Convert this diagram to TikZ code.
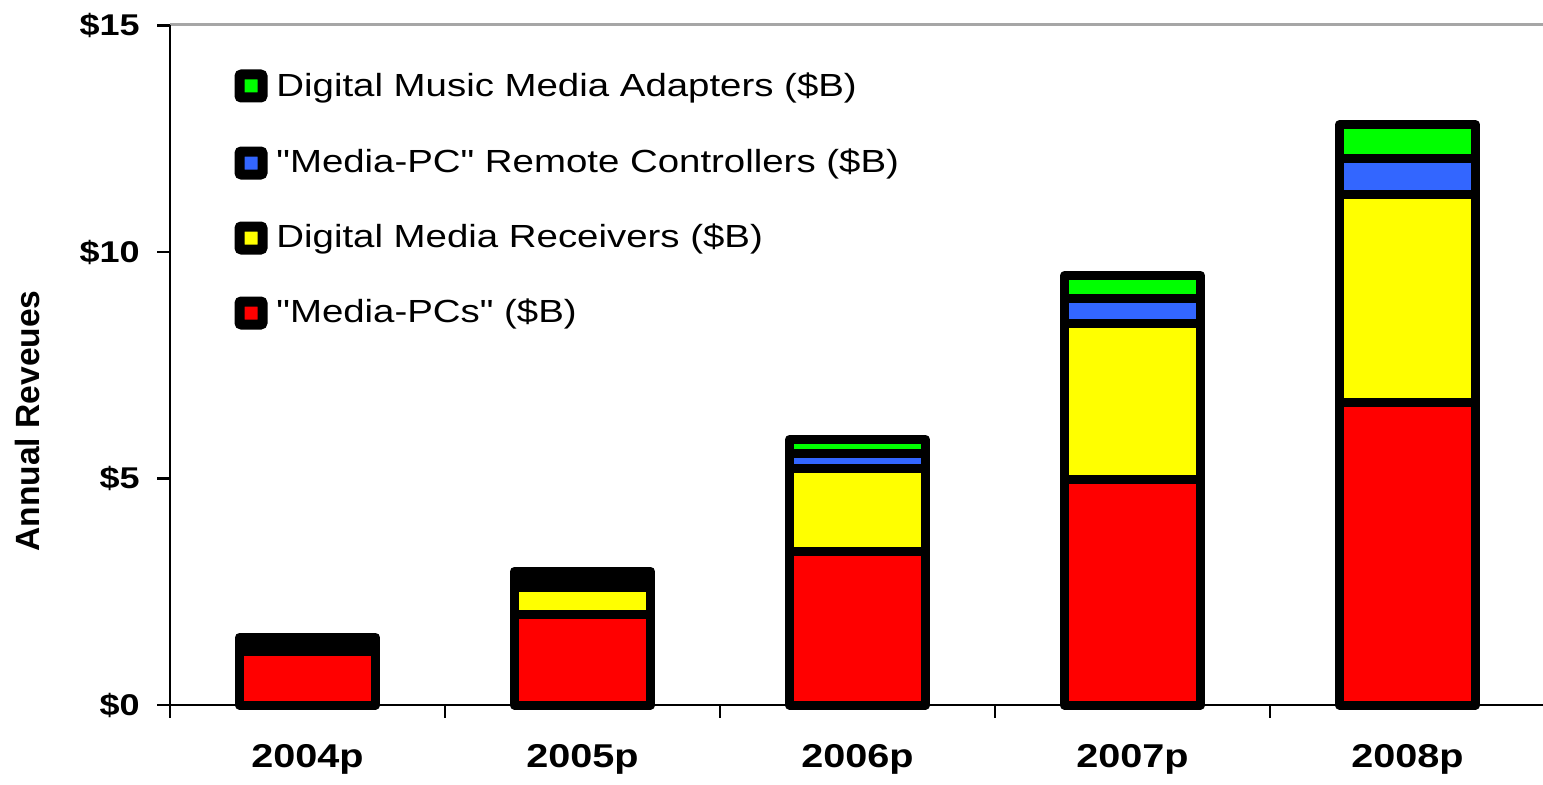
\documentclass[tikz,border=0pt]{standalone}
\usepackage{fontspec}
\setmainfont{Liberation Sans}[FakeStretch=1.2, Ligatures=TeXOff]
\newfontfamily\titlefont{Liberation Sans}
\usepackage{tikz}
\usetikzlibrary{calc}
\definecolor{musicgreen}{RGB}{0,255,0}
\definecolor{remoteblue}{RGB}{51,102,255}
\definecolor{receivyellow}{RGB}{255,255,0}
\definecolor{pcred}{RGB}{255,0,0}
\tikzset{
  barline/.style={draw=black, line width=4.5pt, line join=round},
  legkey/.style={draw=black, line width=5pt, rounded corners=1pt, minimum size=11.5pt, inner sep=0pt},
  legtext/.style={anchor=west, inner sep=0pt, font=\fontsize{16}{19}\selectfont},
  ticktext/.style={anchor=east, inner sep=0pt, font=\bfseries\fontsize{15}{18}\selectfont},
  yeartext/.style={inner sep=0pt, font=\bfseries\fontsize{16.5}{19}\selectfont}
}
\newcommand{\seg}[4]{ \draw[barline, fill=#1] ( #2-0.5-0.2473 , #3 ) rectangle ( #2-0.5+0.2473 , #4 );}

\begin{document}
\begin{tikzpicture}[x=0.5pt,y=0.5pt]
        \useasboundingbox (0,0) rectangle (1543,784);
        % frame and axes
        \draw[gray!70, line width=1.5pt] (170,759) -- (1543,759);
        \draw[line width=1.1pt] (170,759) -- (170,66);
        \draw[line width=1.1pt] (170,79) -- (1543,79);
        \node[ticktext] (t0) at (140,79) {\$0};
        \node[ticktext] (t5) at (140,305.5) {\$5};
        \node[ticktext] (t10) at (140,532) {\$10};
        \node[ticktext] (t15) at (140,758.5) {\$15};
        \begin{scope}[xshift=85pt, yshift=39.5pt, x=137.5pt, y=22.65pt]
        % ticks
        \draw[line width=1.1pt] (-0.047,0) -- (0,0);
        \draw[line width=1.1pt] (-0.047,5) -- (0,5);
        \draw[line width=1.1pt] (-0.047,10) -- (0,10);
        \draw[line width=1.1pt] (-0.047,15) -- (0,15);
        \draw[line width=1.1pt] (1,0) -- (1,-0.29);
        \draw[line width=1.1pt] (2,0) -- (2,-0.29);
        \draw[line width=1.1pt] (3,0) -- (3,-0.29);
        \draw[line width=1.1pt] (4,0) -- (4,-0.29);
        % bar 2004p
        \seg{pcred}{1}{0}{1.18}
        \seg{receivyellow}{1}{1.18}{1.33}
        \seg{remoteblue}{1}{1.33}{1.41}
        \seg{musicgreen}{1}{1.41}{1.49}
        % bar 2005p
        \seg{pcred}{2}{0}{2.0}
        \seg{receivyellow}{2}{2.0}{2.6}
        \seg{remoteblue}{2}{2.6}{2.78}
        \seg{musicgreen}{2}{2.78}{2.95}
        % bar 2006p
        \seg{pcred}{3}{0}{3.39}
        \seg{receivyellow}{3}{3.39}{5.22}
        \seg{remoteblue}{3}{5.22}{5.55}
        \seg{musicgreen}{3}{5.55}{5.86}
        % bar 2007p
        \seg{pcred}{4}{0}{4.98}
        \seg{receivyellow}{4}{4.98}{8.42}
        \seg{remoteblue}{4}{8.42}{8.97}
        \seg{musicgreen}{4}{8.97}{9.48}
        % bar 2008p
        \seg{pcred}{5}{0}{6.68}
        \seg{receivyellow}{5}{6.68}{11.28}
        \seg{remoteblue}{5}{11.28}{12.06}
        \seg{musicgreen}{5}{12.06}{12.81}
        % years
        \node[yeartext] (y2004) at (0.5,-1.21) {2004p};
        \node[yeartext] (y2005) at (1.5,-1.21) {2005p};
        \node[yeartext] (y2006) at (2.5,-1.21) {2006p};
        \node[yeartext] (y2007) at (3.5,-1.21) {2007p};
        \node[yeartext] (y2008) at (4.5,-1.21) {2008p};
        \end{scope}
        % legend
        \node[legkey, fill=musicgreen] (k1) at (251,698) {};
        \node[legtext] (l1) at (276,696) {Digital Music Media Adapters (\$B)};
        \node[legkey, fill=remoteblue] (k2) at (251,621) {};
        \node[legtext] (l2) at (276,620) {"Media-PC" Remote Controllers (\$B)};
        \node[legkey, fill=receivyellow] (k3) at (251,546) {};
        \node[legtext] (l3) at (276,545) {Digital Media Receivers (\$B)};
        \node[legkey, fill=pcred] (k4) at (251,471) {};
        \node[legtext] (l4) at (276,470) {"Media-PCs" (\$B)};
        % axis title
        \node[rotate=90, inner sep=0pt, font=\titlefont\bfseries\fontsize{16.8}{19}\selectfont] (ytitle) at (27,363) {Annual Reveues};
\end{tikzpicture}
\end{document}
